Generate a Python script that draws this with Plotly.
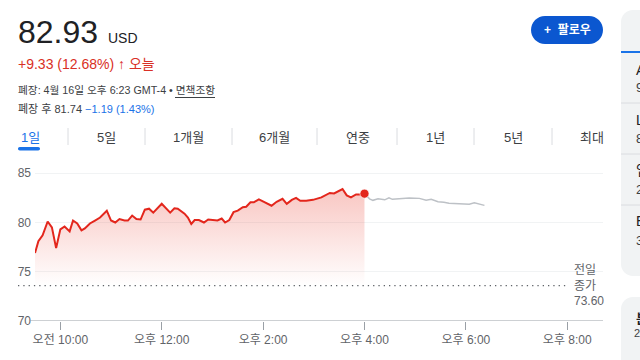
import plotly.graph_objects as go
import pandas as pd

# ---------------- data ----------------
session_times = ["09:30","09:34","09:39","09:45","09:50","09:55","10:00","10:05","10:11","10:15",
                 "10:20","10:25","10:29","10:35","10:41","10:47","10:55","11:00","11:05","11:10",
                 "11:16","11:20","11:25","11:30","11:35","11:40","11:45","11:50","12:00","12:10",
                 "12:15","12:19","12:27","12:31","12:35","12:39","12:44","12:50","12:55","13:01",
                 "13:06","13:11","13:15","13:20","13:25","13:30","13:36","13:40","13:45","13:49",
                 "13:55","14:01","14:10","14:16","14:23","14:28","14:34","14:39","14:44","14:51",
                 "14:59","15:09","15:15","15:19","15:24","15:34","15:39","15:44","15:50","15:56","16:00"]
session_prices = [76.9,78.1,78.7,80.1,79.5,77.4,79.3,79.6,79.1,80.2,
                  79.9,79.2,79.4,79.9,80.2,80.5,81.2,80.2,80.0,80.35,
                  80.2,80.2,80.7,80.35,80.3,81.3,81.4,81.0,81.9,81.0,
                  81.45,81.4,80.9,80.5,79.85,80.25,80.25,80.0,80.3,80.25,
                  80.2,80.4,80.0,80.25,81.05,81.2,81.55,81.6,82.05,82.05,
                  82.35,82.1,81.7,82.1,82.4,81.9,82.3,82.5,82.2,82.2,
                  82.3,82.55,82.85,83.0,82.95,83.4,82.75,82.55,82.85,82.85,82.93]
after_times = ["16:00","16:06","16:10","16:16","16:24","16:29","16:33","16:41","16:53","17:05",
               "17:13","17:19","17:27","17:34","17:40","17:52","18:04","18:10","18:16","18:22"]
after_prices = [82.93,82.4,82.25,82.4,82.3,82.5,82.35,82.4,82.5,82.45,
                82.25,82.35,82.1,82.05,81.95,81.9,81.85,82.0,81.9,81.74]
prev_close = 73.60
y_ticks = [70, 75, 80, 85]
x_tick_times = ["10:00", "12:00", "14:00", "16:00", "18:00", "20:00"]
x_tick_labels = ["오전 10:00", "오후 12:00", "오후 2:00", "오후 4:00", "오후 6:00", "오후 8:00"]
tabs = ["1일", "5일", "1개월", "6개월", "연중", "1년", "5년", "최대"]

DAY = "2024-04-16 "
def to_dt(ts):
    return pd.to_datetime([DAY + t for t in ts])

st = to_dt(session_times)
at = to_dt(after_times)

FONT = "Liberation Sans, Arial, Noto Sans CJK KR, sans-serif"
RED = "#e3261c"
GRAY_TXT = "#5f6368"
DARK = "#3c4043"
BLUE = "#1a73e8"

# page geometry (pixels) -> paper coords
ML, MR, MT, MB = 35, 37, 154, 39
PW, PH = 640 - ML - MR, 360 - MT - MB
def P(x):
    return (x - ML) / PW
def Q(y):
    return (360 - MB - y) / PH

fig = go.Figure()

# baseline for the fill
fig.add_trace(go.Scatter(x=st, y=[prev_close] * len(st), mode="lines",
                         line=dict(width=0, color="rgba(0,0,0,0)"),
                         hoverinfo="skip", showlegend=False))
# session line with gradient fill
fig.add_trace(go.Scatter(x=st, y=session_prices, mode="lines",
                         line=dict(color=RED, width=2),
                         fill="tonexty",
                         fillgradient=dict(type="vertical",
                                           colorscale=[[0, "rgba(234,67,53,0)"],
                                                       [1, "rgba(234,67,53,0.30)"]],
                                           start=prev_close, stop=83.4),
                         showlegend=False))
# after-hours line
fig.add_trace(go.Scatter(x=at, y=after_prices, mode="lines",
                         line=dict(color="#bdc1c6", width=1.5), showlegend=False))
# close marker
fig.add_trace(go.Scatter(x=[st[-1]], y=[session_prices[-1]], mode="markers",
                         marker=dict(color=RED, size=9, line=dict(color="rgba(255,255,255,0.6)", width=1)),
                         showlegend=False))

shapes = []
annotations = []

# prev close dotted line
shapes.append(dict(type="line", xref="paper", yref="y", x0=P(18), x1=P(566), y0=prev_close, y1=prev_close,
                   line=dict(color=GRAY_TXT, width=1.3, dash="1.3px,4px")))
# x-axis baseline
shapes.append(dict(type="line", xref="paper", yref="y", x0=P(29), x1=1, y0=70, y1=70,
                   line=dict(color="#9aa0a6", width=1)))

annotations.append(dict(xref="paper", yref="y", x=P(572), y=prev_close, xanchor="left", yanchor="middle",
                        text="전일<br>종가<br>73.60", showarrow=False, align="left",
                        font=dict(family=FONT, size=12, color=GRAY_TXT)))

def txt(x, y, text, size, color, anchor="left", bold=False):
    annotations.append(dict(xref="paper", yref="paper", x=P(x), y=Q(y), xanchor=anchor, yanchor="middle",
                            text=("<b>%s</b>" % text) if bold else text, showarrow=False,
                            font=dict(family=FONT, size=size, color=color)))

# header
txt(16, 32, "82.93", 32, "#202124")
txt(106, 38, "USD", 14, "#202124")
txt(16, 64, "+9.33 (12.68%) <b>↑</b> 오늘", 14, "#d93025")
txt(16, 90, "폐장: 4월 16일 오후 6:23 GMT-4 • 면책조항", 10.7, DARK)
shapes.append(dict(type="line", xref="paper", yref="paper", x0=P(175), x1=P(215), y0=Q(97.5), y1=Q(97.5),
                   line=dict(color=DARK, width=1)))
txt(16, 109, "폐장 후 81.74 <span style='color:#1a73e8'>−1.19 (1.43%)</span>", 11, DARK)

# follow button
def pill(x0, x1, y0, y1):
    r = (y1 - y0) / 2
    k = 0.5523 * r
    pts = [("M", [(x0 + r, y0)]), ("L", [(x1 - r, y0)]),
           ("C", [(x1 - r + k, y0), (x1, y0 + r - k), (x1, y0 + r)]),
           ("C", [(x1, y0 + r + k), (x1 - r + k, y1), (x1 - r, y1)]),
           ("L", [(x0 + r, y1)]),
           ("C", [(x0 + r - k, y1), (x0, y0 + r + k), (x0, y0 + r)]),
           ("C", [(x0, y0 + r - k), (x0 + r - k, y0), (x0 + r, y0)])]
    s = ""
    for cmd, ps in pts:
        s += cmd + " ".join("%.5f,%.5f" % (P(a), Q(b)) for a, b in ps) + " "
    return s + "Z"
shapes.append(dict(type="path", xref="paper", yref="paper", path=pill(531, 603, 16, 44),
                   fillcolor="#0b57d0", line=dict(width=0)))
txt(567, 30, "+  팔로우", 12, "white", anchor="center", bold=True)

# tabs
tab_x = [30, 106.5, 188.5, 274, 357.5, 435.5, 513, 592]
for i, (t, x) in enumerate(zip(tabs, tab_x)):
    txt(x, 137, t, 13, BLUE if i == 0 else DARK, anchor="center")
for sx in [68, 145, 232, 317, 397, 474, 552]:
    shapes.append(dict(type="line", xref="paper", yref="paper", x0=P(sx), x1=P(sx), y0=Q(128), y1=Q(145),
                       line=dict(color="#dadce0", width=1)))
shapes.append(dict(type="path", xref="paper", yref="paper", path=pill(18, 40, 147, 150.5),
                   fillcolor=BLUE, line=dict(width=0)))

# right side cards (cut off, as in the reference)
def card(x0, y0, x1, y1, r=12):
    k = 0.5523 * r
    pts = [("M", [(x0 + r, y0)]), ("L", [(x1, y0)]), ("L", [(x1, y1)]), ("L", [(x0 + r, y1)]),
           ("C", [(x0 + r - k, y1), (x0, y1 - r + k), (x0, y1 - r)]),
           ("L", [(x0, y0 + r)]),
           ("C", [(x0, y0 + r - k), (x0 + r - k, y0), (x0 + r, y0)])]
    s = ""
    for cmd, ps in pts:
        s += cmd + " ".join("%.5f,%.5f" % (P(a), Q(b)) for a, b in ps) + " "
    return s + "Z"
shapes.append(dict(type="path", xref="paper", yref="paper", path=card(621, 10, 700, 276),
                   fillcolor="#f1f3f4", line=dict(width=0)))
shapes.append(dict(type="path", xref="paper", yref="paper", path=card(621, 297, 700, 420),
                   fillcolor="#f1f3f4", line=dict(width=0)))
shapes.append(dict(type="line", xref="paper", yref="paper", x0=P(621), x1=P(660), y0=Q(52), y1=Q(52),
                   line=dict(color=BLUE, width=2)))
for sy in [103, 154, 205]:
    shapes.append(dict(type="line", xref="paper", yref="paper", x0=P(621), x1=P(660), y0=Q(sy), y1=Q(sy),
                       line=dict(color="#dadce0", width=1)))
for (lab, ly), (val, vy) in [(("A", 70), ("9", 87)), (("L", 120), ("8", 138)),
                             (("업", 170), ("2", 189)), (("E", 221), ("3", 240))]:
    txt(634, ly, lab, 14, "#202124")
    txt(634, vy, val, 13, DARK)
txt(634, 318, "<b>분</b>", 13, "#202124")
txt(632, 333, "20", 11, DARK)

fig.update_layout(
    width=640, height=360,
    margin=dict(l=ML, r=MR, t=MT, b=MB, pad=0),
    paper_bgcolor="white", plot_bgcolor="white",
    font=dict(family=FONT, color=GRAY_TXT),
    shapes=shapes, annotations=annotations,
    showlegend=False, hovermode=False,
    xaxis=dict(type="date", range=[DAY + "09:30", DAY + "20:42:20"],
               tickvals=to_dt(x_tick_times), ticktext=x_tick_labels,
               ticks="outside", ticklen=8, tickcolor="#9aa0a6", tickwidth=1,
               showgrid=False, zeroline=False, showline=False,
               tickfont=dict(family=FONT, size=12, color=GRAY_TXT), fixedrange=True),
    yaxis=dict(range=[70, 70 + PH / 9.85], tickvals=y_ticks,
               showgrid=True, gridcolor="#f1f3f4", gridwidth=1, zeroline=False, showline=False,
               ticks="", ticklabelstandoff=3,
               tickfont=dict(family=FONT, size=12, color=GRAY_TXT), fixedrange=True),
)

fig.write_html("out.html")
